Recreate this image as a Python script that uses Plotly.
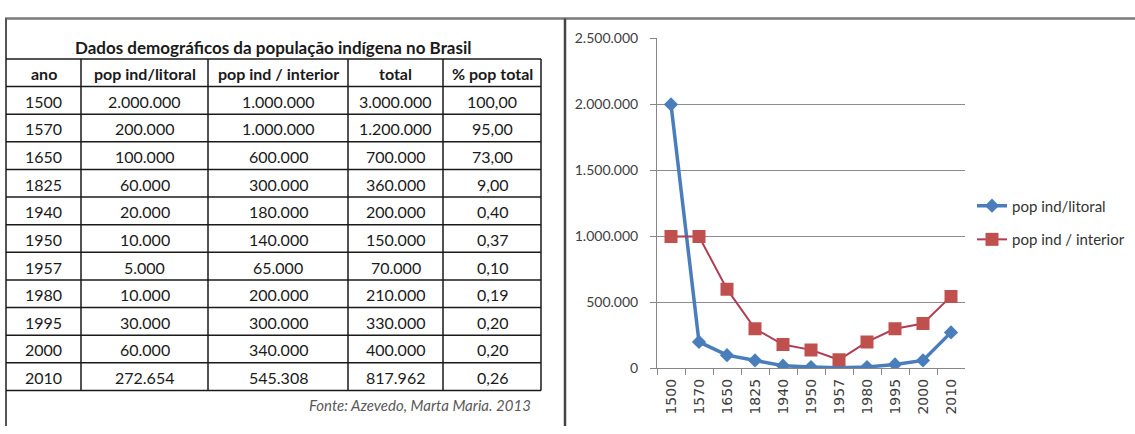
import plotly.graph_objects as go

W, H = 1135, 434

# ------------------------------------------------------------------
# Data
# ------------------------------------------------------------------
anos = ["1500", "1570", "1650", "1825", "1940", "1950", "1957", "1980", "1995", "2000", "2010"]
pop_litoral = [2000000, 200000, 100000, 60000, 20000, 10000, 5000, 10000, 30000, 60000, 272654]
pop_interior = [1000000, 1000000, 600000, 300000, 180000, 140000, 65000, 200000, 300000, 340000, 545308]
pop_total = [3000000, 1200000, 700000, 360000, 200000, 150000, 70000, 210000, 330000, 400000, 817962]
pct_total = [100.00, 95.00, 73.00, 9.00, 0.40, 0.37, 0.10, 0.19, 0.20, 0.20, 0.26]

headers = ["ano", "pop ind/litoral", "pop ind / interior", "total", "% pop total"]
table_title = "Dados demográficos da população indígena no Brasil"
fonte = "Fonte: Azevedo, Marta Maria. 2013"

TABLE_FONT = "Lato, Open Sans, sans-serif"
BLUE = "#4a7ebb"
RED = "#c0504d"


def px(x):
    return x / W


def py(y):
    return 1 - y / H


def fmt_int(v):
    return f"{v:,}".replace(",", ".")


def fmt_pct(v):
    return f"{v:.2f}".replace(".", ",")


# ------------------------------------------------------------------
# Table (drawn with shapes + annotations)
# ------------------------------------------------------------------
col_edges = [6, 81, 208, 348, 443, 541]
grid_top = 52
row_h = 28.75
n_rows = len(anos) + 1
grid_bottom = grid_top + row_h * n_rows

shapes = []
annotations = []


def hline(y, x0, x1, color="#1a1a1a", width=1.5):
    shapes.append(dict(type="line", xref="paper", yref="paper",
                       x0=px(x0), x1=px(x1), y0=py(y), y1=py(y),
                       line=dict(color=color, width=width)))


def vline(x, y0, y1, color="#1a1a1a", width=1.5):
    shapes.append(dict(type="line", xref="paper", yref="paper",
                       x0=px(x), x1=px(x), y0=py(y0), y1=py(y1),
                       line=dict(color=color, width=width)))


# outer frame
hline(10, 5, W, color="#7a7a7a", width=2.5)
vline(6, 10, H, color="#555555", width=2)
vline(565, 10, H, color="#444444", width=2.5)

for i in range(n_rows + 1):
    hline(grid_top + i * row_h, col_edges[0], col_edges[-1])
for x in col_edges[1:]:
    vline(x, grid_top, grid_bottom)

centers = [(a + b) / 2 for a, b in zip(col_edges[:-1], col_edges[1:])]


def cell(text, x, y, bold=False, size=16):
    annotations.append(dict(text=text, x=px(x), y=py(y), xref="paper", yref="paper",
                            showarrow=False, xanchor="center", yanchor="middle",
                            font=dict(family=TABLE_FONT, size=size, color="#1a1a1a",
                                      weight="bold" if bold else "normal")))


cell(table_title, (col_edges[0] + col_edges[-1]) / 2, 40, bold=True, size=17)
for c, h in zip(centers, headers):
    cell(h, c, grid_top + row_h / 2 + 1, bold=True)

for i in range(len(anos)):
    y = grid_top + row_h * (i + 1.5) + 1
    vals = [anos[i], fmt_int(pop_litoral[i]), fmt_int(pop_interior[i]),
            fmt_int(pop_total[i]), fmt_pct(pct_total[i])]
    for c, v in zip(centers, vals):
        cell(v, c, y)

annotations.append(dict(text=fonte, x=px(533), y=py(412), xref="paper", yref="paper",
                        showarrow=False, xanchor="right", yanchor="middle",
                        font=dict(family=TABLE_FONT, size=15, color="#595959", style="italic")))

# ------------------------------------------------------------------
# Line chart
# ------------------------------------------------------------------
fig = go.Figure()

fig.add_trace(go.Scatter(
    x=anos, y=pop_litoral, mode="lines+markers", name="pop ind/litoral",
    line=dict(color=BLUE, width=3.5),
    marker=dict(symbol="diamond", size=11, color=BLUE),
    legend="legend", showlegend=True,
))
fig.add_trace(go.Scatter(
    x=anos, y=pop_interior, mode="lines+markers", name="pop ind / interior",
    line=dict(color="#b03c55", width=2),
    marker=dict(symbol="square", size=13, color=RED),
    legend="legend2", showlegend=True,
))

legend_font = dict(family="Lato, sans-serif", size=15, color="#333333")

fig.update_layout(
    width=W, height=H,
    margin=dict(l=0, r=0, t=0, b=0),
    paper_bgcolor="white",
    plot_bgcolor="white",
    separators=",.",
    showlegend=True,
    shapes=shapes,
    annotations=annotations,
    legend=dict(x=px(972), y=py(205), xanchor="left", yanchor="middle",
                font=legend_font, bgcolor="rgba(0,0,0,0)", visible=True),
    legend2=dict(x=px(972), y=py(240), xanchor="left", yanchor="middle",
                 font=legend_font, bgcolor="rgba(0,0,0,0)", visible=True),
    xaxis=dict(
        domain=[px(657), px(965)],
        type="category",
        range=[-0.5, len(anos) - 0.5],
        tickson="boundaries",
        ticks="outside", ticklen=6, tickcolor="#868686",
        showline=True, linecolor="#868686", linewidth=1,
        showgrid=False,
        tickangle=-90,
        ticklabelstandoff=4,
        tickfont=dict(family="DejaVu Sans", size=14, color="#404040"),
    ),
    yaxis=dict(
        domain=[1 - 374 / H, 1 - 30.7 / H],
        range=[0, 2500000],
        dtick=500000,
        tickformat=",d",
        ticks="outside", ticklen=6, tickcolor="#868686",
        ticklabelstandoff=9,
        showline=True, linecolor="#868686", linewidth=1,
        showgrid=True, gridcolor="#8c8c8c", gridwidth=1,
        zeroline=False,
        tickfont=dict(family="Lato, sans-serif", size=14, color="#404040"),
    ),
)

# pin the figure to the top-left corner of the page
post = (
    "document.body.style.margin='0';document.body.style.overflow='hidden';"
    "var d=document.getElementById('{plot_id}');"
    "d.style.position='absolute';d.style.left='0px';d.style.top='0px';"
)
fig.write_html("out.html", post_script=post, config={"displayModeBar": False})
